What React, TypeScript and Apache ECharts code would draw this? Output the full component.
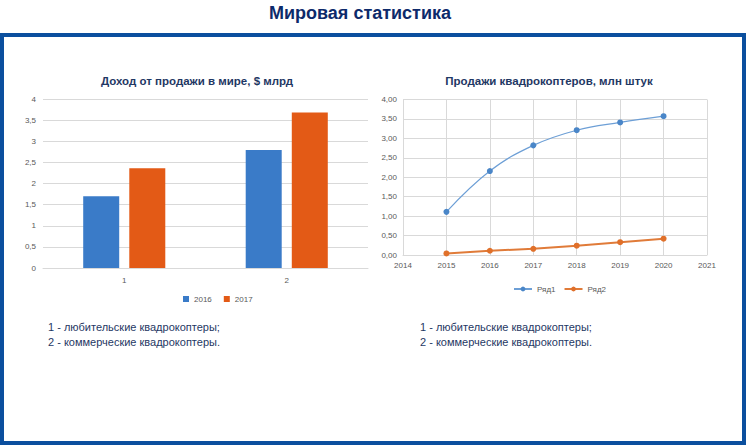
import React, { useEffect, useRef } from "react";
import * as echarts from "echarts";

const barCategories = ["1", "2"];
const revenue2016 = [1.7, 2.79];
const revenue2017 = [2.36, 3.68];

const years = [2015, 2016, 2017, 2018, 2019, 2020];
const row1 = [1.11, 2.16, 2.82, 3.21, 3.41, 3.57];
const row2 = [0.04, 0.11, 0.16, 0.24, 0.33, 0.42];

const noteLines = ["1 - любительские квадрокоптеры;", "2 - коммерческие квадрокоптеры."];

const NAVY = "#1f3864";
const AXIS_TXT = "#595959";
const GRID = "#d9d9d9";
const BLUE = "#3a7bc8";
const ORANGE = "#e35a16";

export default function App() {
  const ref = useRef<HTMLDivElement>(null);
  useEffect(() => {
    document.body.style.margin = "0";
    const chart = echarts.init(ref.current!, null, { renderer: "svg" });
    const baseFont = "'Liberation Sans', Arial, sans-serif";
    const notes: any[] = [];
    [48, 420].forEach((x) => {
      noteLines.forEach((t, i) => {
        notes.push({
          type: "text",
          x,
          y: 327 + i * 15,
          style: { text: t, fill: NAVY, font: `11px ${baseFont}`, textVerticalAlign: "middle" },
        });
      });
    });
    chart.setOption({
      animation: false,
      textStyle: { fontFamily: baseFont },
      graphic: [
        {
          type: "rect",
          shape: { x: 2, y: 35, width: 742, height: 408 },
          style: { fill: "#fff", stroke: "#0b4f9e", lineWidth: 4 },
          z: -10,
        },
        {
          type: "text",
          x: 360,
          y: 13,
          style: {
            text: "Мировая статистика",
            fill: "#0d2a6b",
            font: `bold 18px 'Liberation Sans Narrow', ${baseFont}`,
            textAlign: "center",
            textVerticalAlign: "middle",
          },
        },
        {
          type: "text",
          x: 197,
          y: 81,
          style: {
            text: "Доход от продажи в мире, $ млрд",
            fill: NAVY,
            font: `bold 11.5px ${baseFont}`,
            textAlign: "center",
            textVerticalAlign: "middle",
          },
        },
        {
          type: "text",
          x: 549,
          y: 81,
          style: {
            text: "Продажи квадрокоптеров, млн штук",
            fill: NAVY,
            font: `bold 11.5px ${baseFont}`,
            textAlign: "center",
            textVerticalAlign: "middle",
          },
        },
        ...notes,
      ],
      legend: [
        {
          data: ["2016", "2017"],
          left: 178,
          top: 290,
          icon: "rect",
          itemWidth: 6,
          itemHeight: 6,
          itemGap: 12,
          textStyle: { fontSize: 8, color: AXIS_TXT },
        },
        {
          data: ["Ряд1", "Ряд2"],
          left: 508,
          top: 280,
          itemWidth: 18,
          itemHeight: 6,
          itemGap: 8,
          textStyle: { fontSize: 8, color: AXIS_TXT },
        },
      ],
      grid: [
        { left: 43, right: 378, top: 99, bottom: 177 },
        { left: 403, right: 39, top: 99.5, bottom: 190 },
      ],
      xAxis: [
        {
          gridIndex: 0,
          type: "category",
          data: barCategories,
          axisLine: { lineStyle: { color: GRID } },
          axisTick: { show: false },
          axisLabel: { fontSize: 8, color: AXIS_TXT, margin: 8 },
        },
        {
          gridIndex: 1,
          type: "value",
          min: 2014,
          max: 2021,
          interval: 1,
          axisLine: { show: true, lineStyle: { color: GRID } },
          axisTick: { show: false },
          axisLabel: { fontSize: 8, color: AXIS_TXT, margin: 6, formatter: (v: number) => String(v) },
          splitLine: { show: true, lineStyle: { color: GRID } },
        },
      ],
      yAxis: [
        {
          gridIndex: 0,
          type: "value",
          min: 0,
          max: 4,
          interval: 0.5,
          axisLine: { show: false },
          axisTick: { show: false },
          axisLabel: {
            fontSize: 8,
            color: AXIS_TXT,
            margin: 7,
            formatter: (v: number) => String(v).replace(".", ","),
          },
          splitLine: { lineStyle: { color: GRID } },
        },
        {
          gridIndex: 1,
          type: "value",
          min: 0,
          max: 4,
          interval: 0.5,
          axisLine: { show: true, lineStyle: { color: GRID } },
          axisTick: { show: false },
          axisLabel: {
            fontSize: 8,
            color: AXIS_TXT,
            margin: 6,
            formatter: (v: number) => v.toFixed(2).replace(".", ","),
          },
          splitLine: { show: true, lineStyle: { color: GRID } },
        },
      ],
      series: [
        {
          name: "2016",
          type: "bar",
          xAxisIndex: 0,
          yAxisIndex: 0,
          data: revenue2016,
          barWidth: 36,
          barGap: "28%",
          itemStyle: { color: BLUE },
        },
        {
          name: "2017",
          type: "bar",
          xAxisIndex: 0,
          yAxisIndex: 0,
          data: revenue2017,
          barWidth: 36,
          barGap: "28%",
          itemStyle: { color: ORANGE },
        },
        {
          name: "Ряд1",
          type: "line",
          xAxisIndex: 1,
          yAxisIndex: 1,
          smooth: 0.4,
          data: years.map((y, i) => [y, row1[i]]),
          symbol: "circle",
          symbolSize: 6,
          lineStyle: { color: "#6d9fd6", width: 1.2 },
          itemStyle: { color: "#4a86c8" },
        },
        {
          name: "Ряд2",
          type: "line",
          xAxisIndex: 1,
          yAxisIndex: 1,
          data: years.map((y, i) => [y, row2[i]]),
          symbol: "circle",
          symbolSize: 6,
          lineStyle: { color: "#e07b39", width: 2 },
          itemStyle: { color: "#e0702a" },
        },
      ],
    });
    return () => chart.dispose();
  }, []);
  return <div ref={ref} style={{ width: 746, height: 445 }} />;
}
